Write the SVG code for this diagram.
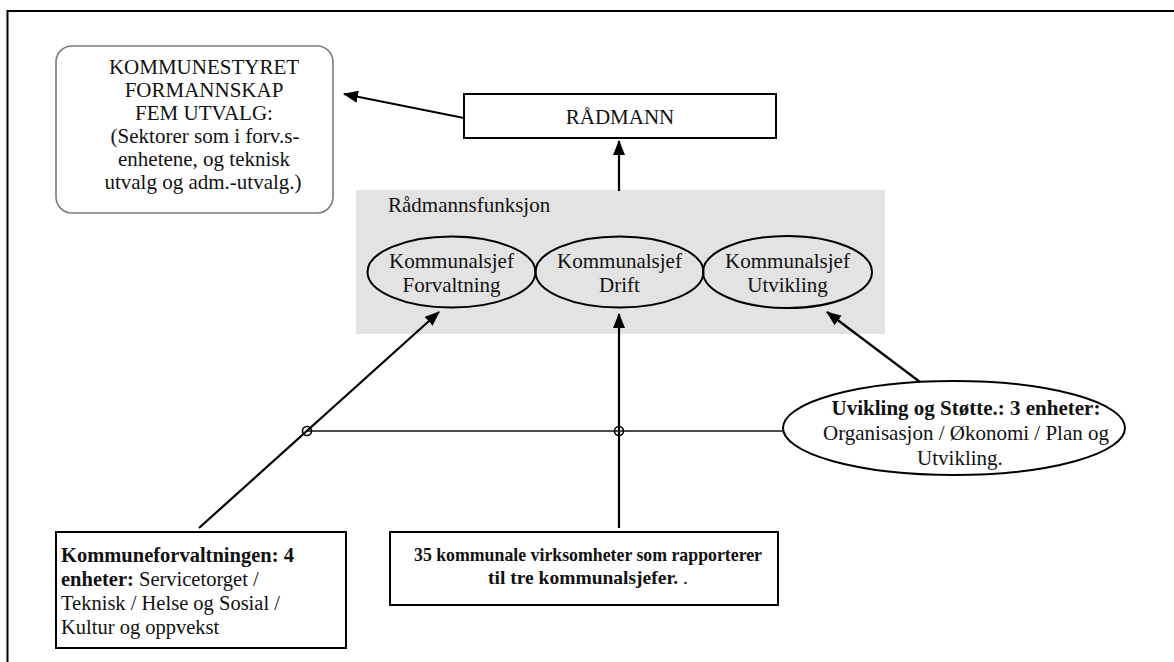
<svg xmlns="http://www.w3.org/2000/svg" width="1174" height="662" viewBox="0 0 1174 662">
  <style>
    text { font-family: "Liberation Serif", "Times New Roman", "DejaVu Serif", serif; font-size: 21px; font-weight: 400; fill: #111; }
    .c { text-anchor: middle; }
    .b { font-weight: 700; }
    .s { font-size: 20.5px; }
    .m { font-size: 17.8px; }
    .box { fill: #fff; stroke: #000; stroke-width: 2; }
    .oval { fill: none; stroke: #000; stroke-width: 2; }
    .edge { fill: none; stroke: #000; stroke-width: 2.2; }
    .thin { fill: none; stroke: #111; stroke-width: 1.6; }
    .dot { fill: none; stroke: #000; stroke-width: 1.6; }
  </style>
  <defs>
    <marker id="arrow" viewBox="0 0 15 12" refX="14" refY="6" markerWidth="15" markerHeight="12" markerUnits="userSpaceOnUse" orient="auto">
      <path d="M0,0 L15,6 L0,12 z" fill="#000"/>
    </marker>
  </defs>

  <rect width="1174" height="662" fill="#fff"/>

  <!-- page frame (top and left rule) -->
  <path d="M7.5,662 L7.5,11 L1174,11" fill="none" stroke="#000" stroke-width="2"/>

  <!-- political bodies -->
  <g id="kommunestyret">
    <rect x="56" y="46" width="277" height="167" rx="16" ry="16" fill="#fff" stroke="#7a7a7a" stroke-width="1.6"/>
    <text class="c" x="204" y="74">KOMMUNESTYRET</text>
    <text class="c" x="204" y="97">FORMANNSKAP</text>
    <text class="c" x="204" y="120">FEM UTVALG:</text>
    <text class="c" x="205" y="143">(Sektorer som i forv.s-</text>
    <text class="c" x="204" y="166">enhetene, og teknisk</text>
    <text class="c" x="203" y="189">utvalg og adm.-utvalg.)</text>
  </g>

  <g id="radmann">
    <rect class="box" x="464" y="94" width="312" height="44"/>
    <text class="c" x="620" y="124">RÅDMANN</text>
  </g>

  <!-- chief executive function with the three directors -->
  <g id="radmannsfunksjon">
    <rect x="356" y="190" width="529" height="144" fill="#e3e3e3"/>
    <text x="388" y="212">Rådmannsfunksjon</text>
  </g>

  <g id="sjef-forvaltning">
    <ellipse class="oval" cx="451.5" cy="272" rx="84" ry="35.5"/>
    <text class="c" x="451.5" y="268">Kommunalsjef</text>
    <text class="c" x="451.5" y="292">Forvaltning</text>
  </g>

  <g id="sjef-drift">
    <ellipse class="oval" cx="619.5" cy="272" rx="84" ry="35.5"/>
    <text class="c" x="619.5" y="268">Kommunalsjef</text>
    <text class="c" x="619.5" y="292">Drift</text>
  </g>

  <g id="sjef-utvikling">
    <ellipse class="oval" cx="787.5" cy="272" rx="84.5" ry="36"/>
    <text class="c" x="787.5" y="268">Kommunalsjef</text>
    <text class="c" x="787.5" y="292">Utvikling</text>
  </g>

  <!-- units -->
  <g id="utvikling-stotte">
    <ellipse class="oval" cx="954" cy="428" rx="171" ry="47"/>
    <text class="c b" x="966" y="415">Uvikling og Støtte.: 3 enheter:</text>
    <text class="c" x="966" y="440">Organisasjon / Økonomi / Plan og</text>
    <text class="c" x="960" y="465">Utvikling.</text>
  </g>

  <g id="kommuneforvaltningen">
    <rect class="box" x="56" y="532" width="290" height="116"/>
    <text class="s b" x="61" y="562">Kommuneforvaltningen: 4</text>
    <text class="s" x="61" y="586"><tspan class="b">enheter:</tspan> Servicetorget /</text>
    <text class="s" x="61" y="610">Teknisk / Helse og Sosial /</text>
    <text class="s" x="61" y="634">Kultur og oppvekst</text>
  </g>

  <g id="virksomheter">
    <rect class="box" x="390" y="532" width="388" height="73"/>
    <text class="c m b" x="588" y="561">35 kommunale virksomheter som rapporterer</text>
    <text class="c" x="588" y="584" style="font-size:19.5px"><tspan class="b">til tre kommunalsjefer.</tspan> .</text>
  </g>

  <!-- connectors -->
  <g id="connectors">
    <path class="edge" d="M464,118 L344,94" marker-end="url(#arrow)"/>
    <path class="edge" d="M619,191 L619,141" marker-end="url(#arrow)"/>
    <path class="edge" d="M199,528 L439,312" marker-end="url(#arrow)"/>
    <path class="edge" d="M619,528 L619,314" marker-end="url(#arrow)"/>
    <path class="edge" d="M920,382 L827,312" marker-end="url(#arrow)"/>
    <path class="thin" d="M307,431 L783,431"/>
    <circle class="dot" cx="307" cy="431" r="4.5"/>
    <circle class="dot" cx="619" cy="431" r="4.5"/>
  </g>
</svg>
